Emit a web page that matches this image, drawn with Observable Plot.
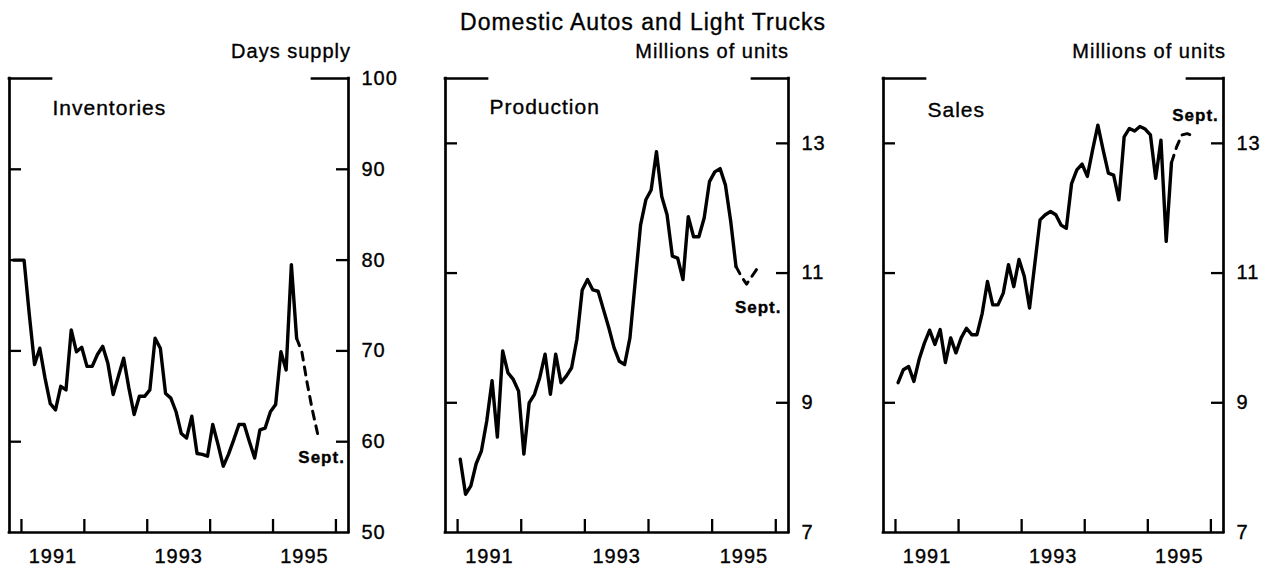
<!DOCTYPE html>
<html><head><meta charset="utf-8">
<script src="https://cdn.jsdelivr.net/npm/d3@7"></script>
<script src="https://cdn.jsdelivr.net/npm/@observablehq/plot@0.6"></script>
<style>
body{margin:0;background:#fff;}
#root{position:relative;width:1276px;height:569px;overflow:hidden;font-family:"Liberation Sans",Arial,Helvetica,sans-serif;color:#000;}
.t{position:absolute;white-space:nowrap;line-height:1;letter-spacing:1px;-webkit-text-stroke:0.35px #000;}
.panel{position:absolute;top:0;}
.panel svg text{stroke:#000;stroke-width:0.35px;}
</style></head><body><div id="root"></div>
<script>
// ---- data (monthly values) ----
const chartTitle = "Domestic Autos and Light Trucks";
const yearLabels = [1991, 1993, 1995];
const yearTicks = [1991, 1992, 1993, 1994, 1995, 1996];

// Inventories, days supply: Nov 1990 - May 1995 (actual), May - Sept 1995 (estimate)
const invStart = [1990, 11];
const invActual = [80, 80,
  80.0, 74.0, 68.5, 70.3, 67.0, 64.2, 63.5, 66.1, 65.7, 72.3, 69.9, 70.4,
  68.3, 68.3, 69.6, 70.5, 68.6, 65.2, 67.2, 69.2, 65.9, 63.0, 65.0, 65.0,
  65.7, 71.4, 70.3, 65.3, 64.8, 63.3, 60.9, 60.4, 62.8, 58.7, 58.6, 58.4,
  61.9, 59.7, 57.3, 58.6, 60.2, 61.9, 61.9, 60.0, 58.2, 61.3, 61.5, 63.3,
  64.1, 69.9, 67.9, 79.5, 71.4];
const invEstStart = [1995, 5];
const invEst = [71.4, 69.9, 66.5, 63.5, 60.9];

// Production, millions of units (annual rate): Jan 1991 - May 1995
const prodStart = [1991, 1];
const prodActual = [
  8.13, 7.59, 7.72, 8.06, 8.26, 8.72, 9.34, 8.47, 9.80, 9.46, 9.36, 9.18,
  8.21, 9.00, 9.13, 9.39, 9.75, 9.13, 9.75, 9.31, 9.41, 9.54, 9.98, 10.74,
  10.90, 10.74, 10.72, 10.44, 10.16, 9.85, 9.64, 9.59, 10.00, 10.87, 11.74, 12.13,
  12.28, 12.87, 12.18, 11.90, 11.26, 11.23, 10.90, 11.87, 11.56, 11.56, 11.85, 12.41,
  12.56, 12.61, 12.36, 11.80, 11.10];
const prodEstStart = [1995, 5];
const prodEst = [11.10, 10.95, 10.83, 10.95, 11.07];

// Sales, millions of units (annual rate): Jan 1991 - May 1995
const salesStart = [1991, 1];
const salesActual = [
  9.31, 9.51, 9.56, 9.33, 9.67, 9.92, 10.12, 9.90, 10.13, 9.62, 10.00, 9.77,
  10.00, 10.15, 10.05, 10.05, 10.38, 10.87, 10.51, 10.51, 10.69, 11.13, 10.79, 11.21,
  10.95, 10.46, 11.14, 11.82, 11.90, 11.95, 11.90, 11.74, 11.69, 12.38, 12.59, 12.68,
  12.49, 12.90, 13.28, 12.90, 12.54, 12.51, 12.13, 13.10, 13.23, 13.19, 13.26, 13.22,
  13.13, 12.46, 13.05, 11.49, 12.70];
const salesEstStart = [1995, 5];
const salesEst = [12.70, 12.95, 13.13, 13.15, 13.12];

const invTicks = [60, 70, 80, 90];
const invLabels = [50, 60, 70, 80, 90, 100];
const unitTicks = [9, 11, 13];
const unitLabels = [7, 9, 11, 13];

// ---- helpers ----
function series(start, values) {
  return values.map((v, i) => ({x: start[0] + (start[1] - 1 + i + 0.5) / 12, y: v}));
}

const xDomain = [1990.81, 1996.2];
const root = document.getElementById("root");

function addText(txt, style) {
  const d = document.createElement("div");
  d.className = "t";
  d.textContent = txt;
  Object.assign(d.style, style);
  root.appendChild(d);
}

addText(chartTitle, {left: "5px", width: "1276px", textAlign: "center", top: "11px", fontSize: "23px"});
addText("Days supply", {left: "0px", width: "351px", textAlign: "right", top: "41px", fontSize: "20px"});
addText("Millions of units", {left: "430px", width: "359px", textAlign: "right", top: "41px", fontSize: "20px"});
addText("Millions of units", {left: "860px", width: "366px", textAlign: "right", top: "41px", fontSize: "20px"});

const panels = [
  {name: "Inventories", actual: series(invStart, invActual), est: series(invEstStart, invEst),
   yDomain: [50, 100], ticks: invTicks, labels: invLabels, left: 0, width: 420, ml: 9, mr: 72,
   septDx: 4, septDy: 24, nameDx: 43, nameDy: 22},
  {name: "Production", actual: series(prodStart, prodActual), est: series(prodEstStart, prodEst),
   yDomain: [7, 14], ticks: unitTicks, labels: unitLabels, left: 430, width: 420, ml: 15, mr: 62,
   septDx: 1, septDy: 39, nameDx: 44, nameDy: 21},
  {name: "Sales", actual: series(salesStart, salesActual), est: series(salesEstStart, salesEst),
   yDomain: [7, 14], ticks: unitTicks, labels: unitLabels, left: 860, width: 416, ml: 23, mr: 53,
   septDx: 3, septDy: -20, nameDx: 44, nameDy: 24}
];

const mt = 78, mb = 37, H = 569;
for (const p of panels) {
  const [y0, y1] = p.yDomain;
  const [x0, x1] = xDomain;
  const plotW = p.width - p.ml - p.mr;
  const plotH = H - mt - mb;
  const pxX = (x1 - x0) / plotW;   // data units per pixel
  const pxY = (y1 - y0) / plotH;
  const last = p.est[p.est.length - 1];
  const fw = 2.7;
  const svg = Plot.plot({
    width: p.width, height: H,
    marginLeft: p.ml, marginRight: p.mr, marginTop: mt, marginBottom: mb,
    style: {fontFamily: '"Liberation Sans", Arial, Helvetica, sans-serif', fontSize: "20px", letterSpacing: "1px", color: "#000", background: "transparent", overflow: "visible"},
    x: {domain: xDomain},
    y: {domain: p.yDomain},
    marks: [
      // frame: sides and bottom, top stubs only near the corners
      Plot.ruleX([x0, x1], {y1: y0, y2: y1, stroke: "#000", strokeWidth: fw, strokeLinecap: "square"}),
      Plot.ruleY([y0], {x1: x0, x2: x1, stroke: "#000", strokeWidth: fw, strokeLinecap: "square"}),
      Plot.ruleY([y1], {x1: x0, x2: x0 + 42 * pxX, stroke: "#000", strokeWidth: fw, strokeLinecap: "square"}),
      Plot.ruleY([y1], {x1: x1 - 36 * pxX, x2: x1, stroke: "#000", strokeWidth: fw, strokeLinecap: "square"}),
      // inward ticks
      Plot.ruleY(p.ticks, {x1: x0, x2: x0 + 12 * pxX, stroke: "#000", strokeWidth: 2.3}),
      Plot.ruleY(p.ticks, {x1: x1 - 12 * pxX, x2: x1, stroke: "#000", strokeWidth: 2.3}),
      Plot.ruleX(yearTicks, {y1: y0, y2: y0 + 13 * pxY, stroke: "#000", strokeWidth: 2.3}),
      // axes labels
      Plot.axisY(p.labels, {anchor: "right", tickSize: 0, tickPadding: 13, label: null, tickFormat: d => String(d)}),
      Plot.axisX(yearLabels.map(d => d + 0.5), {anchor: "bottom", tickSize: 0, tickPadding: 16, label: null, tickFormat: d => String(Math.floor(d))}),
      // data
      Plot.line(p.actual, {x: "x", y: "y", stroke: "#000", strokeWidth: 3.4, strokeLinejoin: "round", clip: true}),
      Plot.line(p.est, {x: "x", y: "y", stroke: "#000", strokeWidth: 3, strokeDasharray: "8,7", clip: true}),
      // labels
      Plot.text([p.name], {frameAnchor: "top-left", textAnchor: "start", lineAnchor: "top", dx: p.nameDx, dy: p.nameDy, fontSize: 21}),
      Plot.text([last], {x: "x", y: "y", text: () => "Sept.", dx: p.septDx, dy: p.septDy, fontSize: 17, fontWeight: "bold", letterSpacing: 0})
    ]
  });
  const wrap = document.createElement("div");
  wrap.className = "panel";
  wrap.style.left = p.left + "px";
  wrap.appendChild(svg);
  root.appendChild(wrap);
}
</script>
</body></html>
